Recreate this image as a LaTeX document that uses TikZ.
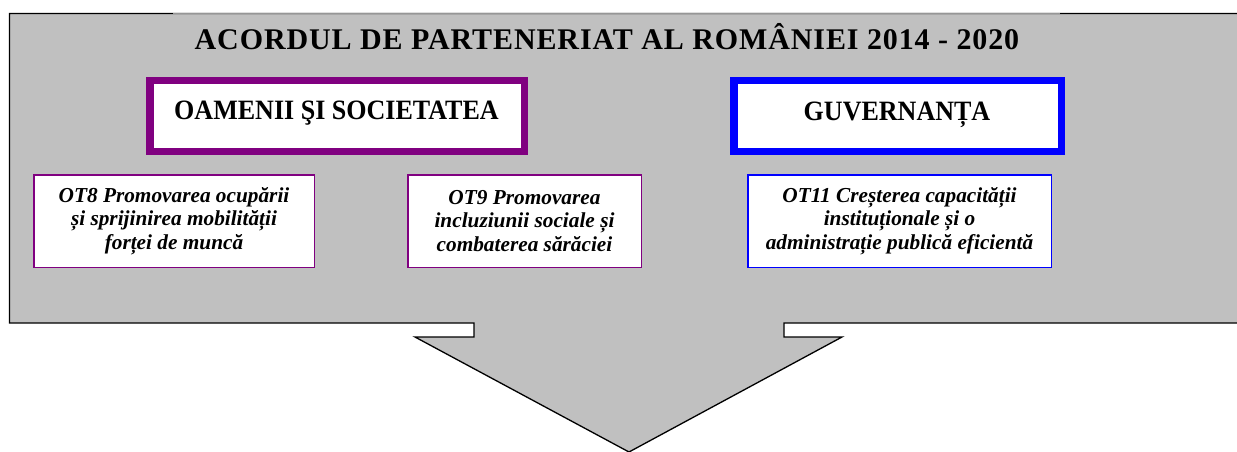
\documentclass[tikz,border=0pt]{standalone}
\usepackage{fontspec}
\setmainfont{Liberation Serif}
\usepackage{graphicx}
\definecolor{panelgray}{RGB}{192,192,192}
\definecolor{edgegray}{RGB}{150,150,150}
\definecolor{ppurple}{RGB}{128,0,128}
\definecolor{pblue}{RGB}{0,0,255}
\begin{document}
\begin{tikzpicture}[x=1pt,y=-1pt,
  headbox/.style={draw, line width=7.5pt, fill=white, inner sep=0pt, minimum height=70.5pt},
  otbox/.style={draw, line width=1.5pt, fill=white, inner sep=0pt, minimum height=92.5pt, align=center,
    font=\fontsize{21.3}{23.5}\selectfont\bfseries\itshape},
  headtext/.style={anchor=base, inner sep=0pt, font=\fontsize{28}{30}\selectfont\bfseries},
  titletext/.style={anchor=base, inner sep=0pt, font=\fontsize{30}{32}\selectfont\bfseries},
]
\useasboundingbox (0,0) rectangle (1237,452);
\clip (0,0) rectangle (1237,452);
% panel with downward arrow
\coordinate (tl) at (9.5,13.5);
\coordinate (tr) at (1250,13.5);
\coordinate (br) at (1250,323);
\coordinate (sr) at (784,323);
\coordinate (sr2) at (784,337);
\coordinate (wr) at (842,337);
\coordinate (apex) at (629,452);
\coordinate (wl) at (415,337);
\coordinate (sl2) at (474,337);
\coordinate (sl) at (474,323);
\coordinate (bl) at (9.5,323);
\draw[fill=panelgray, line width=1.3pt, line join=miter]
  (tl) -- (tr) -- (br) -- (sr) -- (sr2) -- (wr) -- (apex) -- (wl) -- (sl2) -- (sl) -- (bl) -- cycle;
\coordinate (gl) at (173,13.5);
\coordinate (gr) at (1060,13.5);
\draw[edgegray, line width=1.4pt] (gl) -- (gr);
% title
\node[titletext] (title) at (607,49)
  {\addfontfeatures{LetterSpace=3}ACORDUL DE PARTENERIAT AL ROMÂNIEI 2014 - 2020};
% heading boxes
\node[headbox, draw=ppurple, minimum width=374.5pt] (oam) at (337,116) {};
\node[headtext] (oamt) at (336.5,119) {\scalebox{0.93}[1]{OAMENII ŞI SOCIETATEA}};
\node[headbox, draw=pblue, minimum width=327.5pt] (guv) at (897.5,116) {};
\node[headtext] (guvt) at (897,120) {\scalebox{0.93}[1]{GUVERNANȚA}};
% objective boxes
\node[otbox, draw=ppurple, minimum width=280.5pt] (ot8) at (174,221)
  {OT8 Promovarea ocupării\\și sprijinirea mobilității\\forței de muncă};
\node[otbox, draw=ppurple, minimum width=233.5pt] (ot9) at (524.5,221)
  {OT9 Promovarea\\incluziunii sociale și\\combaterea sărăciei};
\node[otbox, draw=pblue, minimum width=303.5pt] (ot11) at (899.5,221)
  {OT11 Creșterea capacității\\instituționale și o\\administrație publică eficientă};
\end{tikzpicture}
\end{document}
